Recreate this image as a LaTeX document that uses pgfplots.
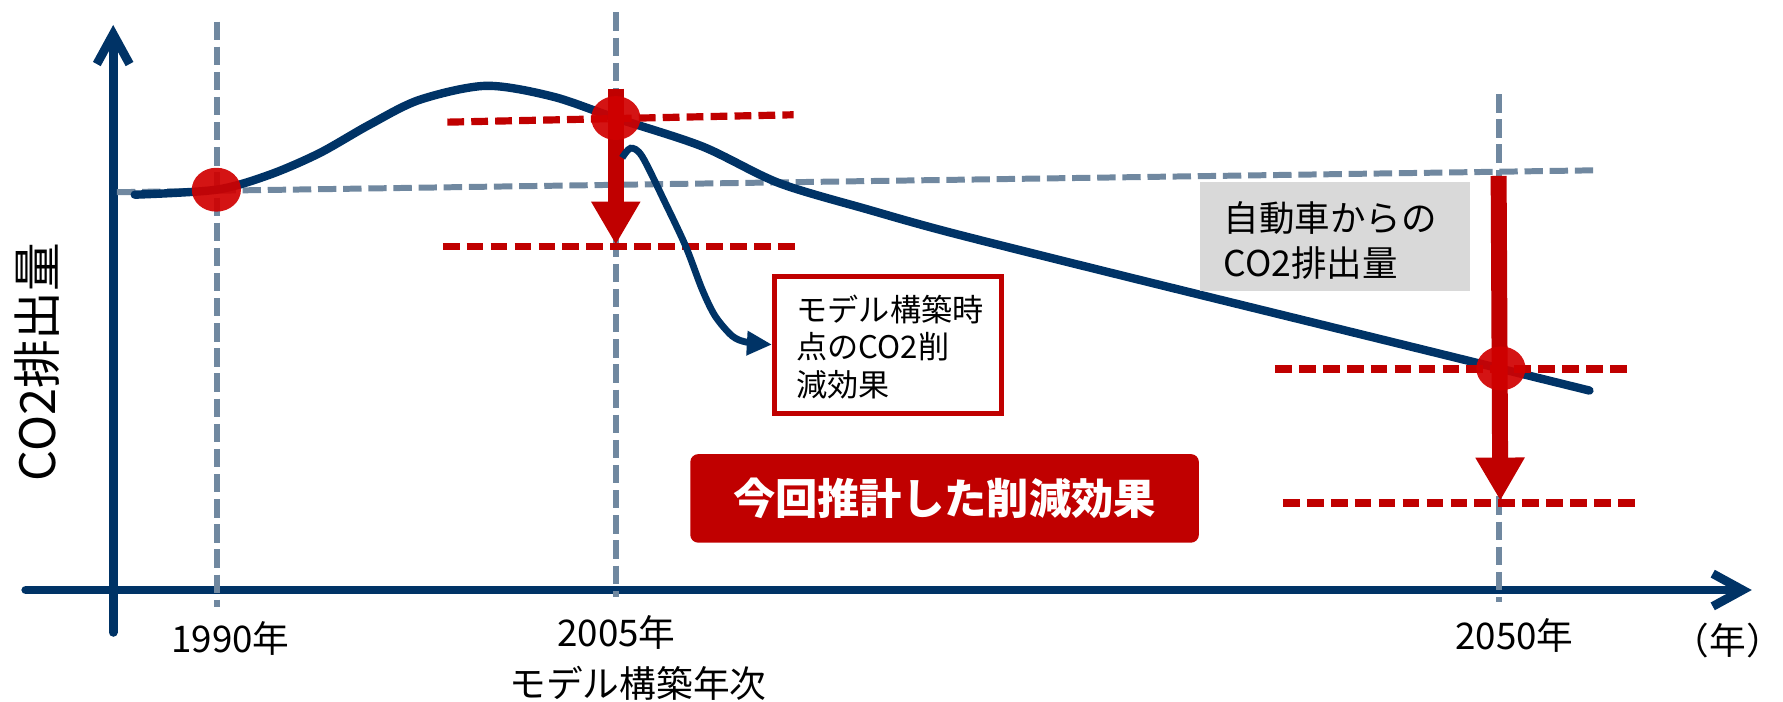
\documentclass[border=0pt]{standalone}
\usepackage{pgfplots}
\pgfplotsset{compat=1.18}
\usetikzlibrary{arrows.meta}
\usepackage{fontspec}
\setmainfont{Noto Sans CJK JP}
\definecolor{navy}{RGB}{0,51,102}
\definecolor{guide}{RGB}{112,136,160}
\definecolor{cred}{RGB}{192,0,0}
\definecolor{dotred}{RGB}{208,0,0}
\definecolor{boxgray}{RGB}{217,217,217}
\tikzset{lbl/.style={inner sep=0pt, font=\fontsize{9.2pt}{11pt}\selectfont}}

\begin{document}
\begin{tikzpicture}
\begin{axis}[
    width=15.68cm, height=6.18cm, scale only axis,
    xmin=0, xmax=1568, ymin=0, ymax=618, y dir=reverse,
    hide axis, clip=false,
    guide/.style={color=guide, line width=1.5pt, dash pattern=on 4.6pt off 1.7pt},
    reddash/.style={color=cred, line width=1.8pt, dash pattern=on 4.2pt off 1.8pt},
    ]
    \addplot[draw=none] coordinates {(0,0) (1568,618)};
    % axes
    \addplot[navy, line width=2.2pt, line cap=round, -{Straight Barb[length=7.5pt,width=8.2pt]}]
        coordinates {(99.7,557) (99.7,22)};
    \addplot[navy, line width=2.2pt, line cap=round, -{Straight Barb[length=7.5pt,width=8.2pt]}]
        coordinates {(22.7,519.7) (1543,519.7)};
    % guide lines
    \addplot[guide] coordinates {(190.8,19) (190.8,535)};
    \addplot[guide] coordinates {(542.4,11) (542.4,526)};
    \addplot[guide] coordinates {(1320.7,83) (1320.7,530)};
    \addplot[guide] coordinates {(103,169.3) (1406,150)};
    % emissions curve
    \addplot[navy, line width=2.1pt, line cap=round, smooth] coordinates {
        (118.7,171.5) (190.6,167.1) (237.5,153.9) (281.4,134.9) (325.4,109.9)
        (369.4,88) (428,75.6) (486.6,85) (542.4,104) (618.6,129) (686,161.2)
        (765,184.7) (838.5,205.2) (985,241.9) (1200,294.8) (1400,344)};
    % reduction levels
    \addplot[reddash] coordinates {(394,107.6) (699,101.1)};
    \addplot[reddash] coordinates {(390,217) (701,217)};
    \addplot[reddash] coordinates {(1123,325) (1435,325)};
    \addplot[reddash] coordinates {(1130,443) (1442,443)};
    % reduction arrows
    \addplot[cred, line width=4pt, -{Triangle[length=10.8pt,width=11.6pt]}]
        coordinates {(542.4,78) (542.4,215.5)};
    \addplot[cred, line width=4pt, -{Triangle[length=10.8pt,width=11.6pt]}]
        coordinates {(1320,155) (1321.5,441)};
    % pointer to box
    \addplot[navy, line width=1.7pt, smooth, -{Triangle[length=6.3pt,width=5.8pt]}] coordinates {
        (548,139) (555.5,130.5) (565.6,137.8) (586,178.8) (604,217) (618.5,255)
        (630,278.5) (645,296) (658,301.5) (680,303.5)};
    % points
    \addplot[dotred, only marks, mark=*, mark size=5.5pt,
        mark options={xscale=1.12, fill=dotred, draw opacity=0, fill opacity=0.92}]
        coordinates {(190.6,167.1) (542.4,104) (1322,324.5)};
    % boxes
    \node[draw=cred, line width=1.25pt, minimum width=2.0cm, minimum height=1.205cm, inner sep=0pt]
        at (782.3,304.2) {};
    \node[anchor=west, align=left, inner sep=0pt, font=\fontsize{7.8pt}{9.4pt}\selectfont]
        at (701,305.6) {モデル構築時\\点のCO2削\\減効果};
    \node[fill=boxgray, minimum width=2.373cm, minimum height=0.958cm, inner sep=0pt]
        at (1175.7,208.6) {};
    \node[anchor=west, align=left, inner sep=0pt, font=\fontsize{8.9pt}{11.4pt}\selectfont]
        at (1077,212) {自動車からの\\CO2排出量};
    \node[fill=cred, rounded corners=2pt, minimum width=4.48cm, minimum height=0.78cm, inner sep=0pt,
        text=white, font=\fontsize{10.6pt}{12pt}\selectfont\bfseries]
        at (832,439) {今回推計した削減効果};
    % labels
    \node[lbl] at (203,562) {1990年};
    \node[lbl] at (543,557) {2005年};
    \node[lbl] at (562,602) {モデル構築年次};
    \node[lbl] at (1334,560) {2050年};
    \node[lbl] at (1522,564) {（年）};
    \node[rotate=90, inner sep=0pt, font=\fontsize{12.2pt}{13pt}\selectfont] at (33,319) {CO2排出量};
\end{axis}
\end{tikzpicture}
\end{document}
